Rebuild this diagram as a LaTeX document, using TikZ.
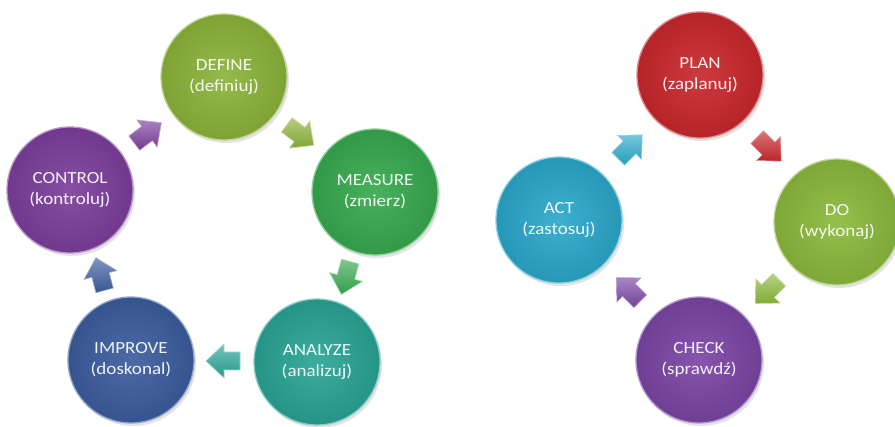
\documentclass[tikz,border=0pt]{standalone}
\usepackage{fontspec}
\newfontfamily\lab[FakeStretch=1.12]{Carlito}
\usetikzlibrary{calc,shadows}
\definecolor{cdefine}{HTML}{8CB43A}
\definecolor{cmeasure}{HTML}{37AA4F}
\definecolor{canalyze}{HTML}{2AA596}
\definecolor{cimprove}{HTML}{3C5D9E}
\definecolor{ccontrol}{HTML}{7C3F9C}
\definecolor{cplan}{HTML}{C9282D}
\definecolor{cdo}{HTML}{8CBA3D}
\definecolor{ccheck}{HTML}{7B46A6}
\definecolor{cact}{HTML}{2CA8CB}
\tikzset{
  ballc/.style={circle, minimum size=126pt, inner sep=0pt, draw=#1!55!white,
    line width=1.3pt, inner color=#1!92!white, outer color=#1!90!black,
    text=white!92!#1, align=center, font=\lab\fontsize{17}{21}\selectfont,
    drop shadow={opacity=0.22, shadow xshift=2pt, shadow yshift=-3pt}},
  pics/barrow/.style={code={
    \shade[top color=#1!65!white, bottom color=#1!92!black, draw=#1!45!white, line width=0.6pt]
      (-16,-9) -- (0,-9) -- (0,-17) -- (18,0) -- (0,17) -- (0,9) -- (-16,9) -- cycle;
  }}
}
\begin{document}
\begin{tikzpicture}[x=1pt,y=-1pt]
\useasboundingbox (0,0) rectangle (895,427);
\fill[white] (0,0) rectangle (895,427);
% left cycle
\node[ballc=cdefine]  (define)  at (224,77)  {DEFINE\\(definiuj)};
\node[ballc=cmeasure] (measure) at (375,192) {MEASURE\\(zmierz)};
\node[ballc=canalyze] (analyze) at (317,362) {ANALYZE\\(analizuj)};
\node[ballc=cimprove] (improve) at (131,360) {IMPROVE\\(doskonal)};
\node[ballc=ccontrol] (control) at (70,190)  {CONTROL\\(kontroluj)};
\pic[rotate=-37]  at ($(define)!0.5!(measure)$)  {barrow=cdefine};
\pic[rotate=-105] at ($(measure)!0.5!(analyze)$) {barrow=cmeasure};
\pic[rotate=180]  at ($(analyze)!0.5!(improve)$) {barrow=canalyze};
\pic[rotate=105]  at ($(improve)!0.5!(control)$) {barrow=cimprove};
\pic[rotate=37]   at ($(control)!0.5!(define)$)  {barrow=ccontrol};
% right cycle
\node[ballc=cplan]  (plan)  at (700,75)  {PLAN\\(zaplanuj)};
\node[ballc=cdo]    (do)    at (837,222) {DO\\(wykonaj)};
\node[ballc=ccheck] (check) at (699,360) {CHECK\\(sprawdź)};
\node[ballc=cact]   (act)   at (559,220) {ACT\\(zastosuj)};
\pic[rotate=-45]  at ($(plan)!0.5!(do)$)    {barrow=cplan};
\pic[rotate=-135] at ($(do)!0.5!(check)$)   {barrow=cdo};
\pic[rotate=135]  at ($(check)!0.5!(act)$)  {barrow=ccheck};
\pic[rotate=45]   at ($(act)!0.5!(plan)$)   {barrow=cact};
\end{tikzpicture}
\end{document}
